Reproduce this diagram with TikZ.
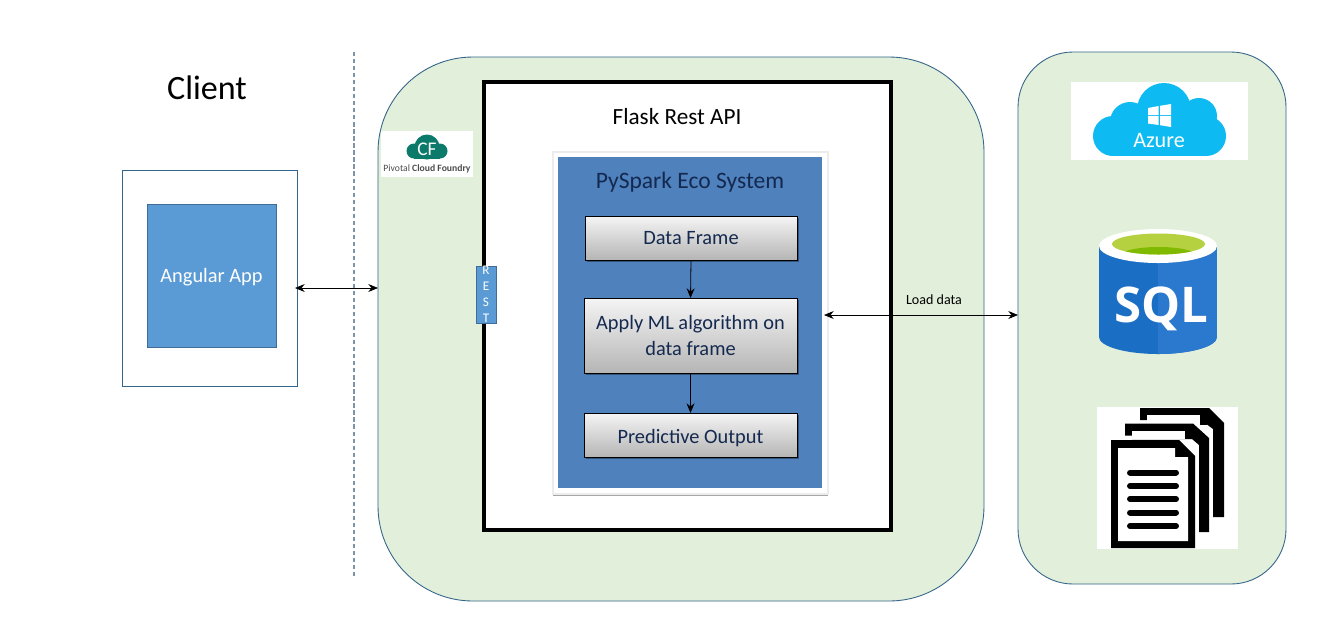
\documentclass[tikz,border=0pt]{standalone}
\usepackage{fontspec}
\setmainfont{Carlito}
\newfontfamily\sqlfont{Open Sans}
\usetikzlibrary{shadows,arrows.meta}
\definecolor{panelfill}{HTML}{E2EFDA}
\definecolor{panelline}{HTML}{34658A}
\definecolor{angblue}{HTML}{5B9BD5}
\definecolor{sepline}{HTML}{7F93A8}
\definecolor{sparkblue}{HTML}{4F81BD}
\definecolor{navytext}{HTML}{14294F}
\definecolor{azureblue}{HTML}{0DBBF2}
\definecolor{cfgreen}{HTML}{0B7A6B}
\definecolor{sqlleft}{HTML}{1A6FC4}
\definecolor{sqlright}{HTML}{2B78CF}
\definecolor{sqllime}{HTML}{B6D13F}
\definecolor{sqlgreen}{HTML}{7FBA00}
\def\u{0.02cm}
\newcommand{\fs}[2]{\fontsize{#1pt}{#2pt}\selectfont}
\tikzset{
  x=0.02cm,y=-0.02cm,
  base/.style={inner sep=0pt,outer sep=0pt,align=center},
  panel/.style={base,draw=panelline,fill=panelfill,line width=0.5pt},
  flowbox/.style={base,draw=black,line width=0.4pt,top color=gray!8,bottom color=gray!58,text=navytext,
     drop shadow={shadow xshift=1pt,shadow yshift=-1pt,opacity=.35,fill=black},font=\fs{11.6}{14.6}},
  link/.style={draw=black,line width=0.45pt,{Stealth[length=5.5pt,width=4.5pt]}-{Stealth[length=5.5pt,width=4.5pt]}},
  flow/.style={draw=black,line width=0.45pt,-{Stealth[length=5.5pt,width=4.5pt]}},
  logobg/.style={base,fill=white},
  caption/.style={inner sep=0pt,outer sep=0pt,text=black},
}
\begin{document}
\begin{tikzpicture}
\useasboundingbox[fill=white] (0,0) rectangle (1325,630);
% panels
\node[panel,rounded corners=1.9cm,minimum width=606*\u,minimum height=544*\u] (cfpanel) at (681,329) {};
\node[panel,rounded corners=1.1cm,minimum width=268*\u,minimum height=532*\u] (store) at (1152,318) {};
% separator
\coordinate (septop) at (354,52);
\coordinate (sepbot) at (354,577);
\draw[sepline,line width=0.6pt,dash pattern=on 2.4pt off 1.6pt] (septop) -- (sepbot);
% client
\node[caption,font=\fs{19.4}{22}] (clienttitle) at (207,88) {Client};
\node[base,draw=panelline,fill=white,line width=0.4pt,minimum width=175*\u,minimum height=216*\u] (client) at (209.5,278) {};
\node[base,draw=angblue!70!black,fill=angblue,line width=0.4pt,text=white,font=\fs{11.6}{14},text height=8pt,text depth=0pt,minimum width=129*\u,minimum height=143*\u] (angular) at (211.5,275.5) {Angular App};
% flask
\node[base,draw=black,fill=white,line width=1.8pt,minimum width=407*\u,minimum height=448*\u] (flask) at (687.5,306) {};
\node[caption,font=\fs{13.2}{16}] (flasktitle) at (677,116.5) {Flask Rest API};
% spark
\node[base,draw=gray!15,line width=0.6pt,fill=white,minimum width=275*\u,minimum height=342*\u,drop shadow={shadow xshift=0pt,shadow yshift=-1pt,opacity=.35,fill=black}] (sparkframe) at (690.5,323) {};
\node[base,fill=sparkblue,minimum width=264*\u,minimum height=331*\u] (spark) at (690,322.5) {};
\node[caption,text=navytext,font=\fs{13.4}{16}] (sparktitle) at (690,182) {PySpark Eco System};
\node[flowbox,minimum width=212*\u,minimum height=44*\u] (df) at (691,238) {Data Frame};
\node[flowbox,minimum width=213*\u,minimum height=75*\u] (ml) at (690.5,335.5) {Apply ML algorithm on\\data frame};
\node[flowbox,text height=9.6pt,text depth=0pt,minimum width=213*\u,minimum height=44*\u] (po) at (690.5,435) {Predictive Output};
\draw[flow] (df.south) -- (ml.north);
\draw[flow] (ml.south) -- (po.north);
% REST tab
\node[base,draw=angblue!70!black,fill=angblue,line width=0.4pt,text=white,font=\fs{7.5}{9.15},minimum width=20*\u,minimum height=57*\u,anchor=center] (rest) at (486,294.5) {R\\E\\S\\T};
% CF logo
\node[logobg,minimum width=92*\u,minimum height=46*\u] (cflogo) at (427,154) {};
\fill[cfgreen] (414,151) circle[radius=7.5];
\fill[cfgreen] (440,151) circle[radius=7.5];
\fill[cfgreen] (427,147) circle[radius=12.5];
\fill[cfgreen] (414,146) rectangle (440,158.5);
\node[caption,text=white,font=\fs{11}{13}] (cfmark) at (427,149.5) {CF};
\node[caption,text=black!70,font=\fs{5.5}{7}] (cfname) at (427,168.5) {Pivotal \textbf{Cloud Foundry}};
% Azure logo
\node[logobg,minimum width=177*\u,minimum height=78*\u] (azurelogo) at (1159.5,121) {};
\fill[azureblue] (1113,136) circle[radius=20];
\fill[azureblue] (1206,136) circle[radius=20];
\fill[azureblue] (1130,122) circle[radius=20];
\fill[azureblue] (1199,116) circle[radius=18];
\fill[azureblue] (1164,110) circle[radius=27];
\fill[azureblue] (1113,118) rectangle (1206,156);
\fill[white] (1148,108) -- (1158.6,106) -- (1158.6,115) -- (1148,115) -- cycle
  (1160,105.8) -- (1171,104) -- (1171,115) -- (1160,115) -- cycle
  (1148,116.2) -- (1158.6,116.2) -- (1158.6,125) -- (1148,123.5) -- cycle
  (1160,116.2) -- (1171,116.2) -- (1171,127) -- (1160,125.2) -- cycle;
\node[caption,text=white,font=\fs{12.6}{15}] (azuretext) at (1159,140) {Azure};
% SQL logo
\fill[sqlleft] (1099,246) rectangle (1217,337);
\fill[sqlleft] (1158,337) ellipse[x radius=59,y radius=17];
\begin{scope}
\clip (1158,220) rectangle (1225,360);
\fill[sqlright] (1099,246) rectangle (1217,337);
\fill[sqlright] (1158,337) ellipse[x radius=59,y radius=17];
\end{scope}
\fill[white] (1158,246) ellipse[x radius=59,y radius=17];
\fill[sqllime] (1158.5,244) ellipse[x radius=46.5,y radius=10.5];
\begin{scope}
\clip (1158.5,244) ellipse[x radius=46.5,y radius=10.5];
\fill[sqlgreen] (1158.5,255) ellipse[x radius=37,y radius=8];
\end{scope}
\node[caption,text=white,font=\sqlfont\bfseries\fs{28}{30}] (sqltext) at (1161.5,309) {SQL};
% documents logo
\node[logobg,minimum width=141*\u,minimum height=142*\u] (docs) at (1167.5,478) {};
\fill[black] (1140,408) -- (1209,408) -- (1224,423) -- (1224,517) -- (1213,517) -- (1213,429) -- (1207,424.5) -- (1147,424.5) -- (1147,420) -- (1140,420) -- cycle;
\fill[white] (1147,415) rectangle (1200,424.5);
\fill[black] (1200,414) -- (1207,414) -- (1207,424.5) -- (1200,424.5) -- cycle;
\fill[black] (1125,423.5) -- (1193,423.5) -- (1209,438) -- (1209,532) -- (1199,532) -- (1199,445) -- (1192,439) -- (1132,439) -- (1132,435.5) -- (1125,435.5) -- cycle;
\fill[white] (1132,430.5) rectangle (1185,439);
\fill[black] (1185,430) -- (1192,430) -- (1192,439) -- (1185,439) -- cycle;
\fill[black] (1111,440) -- (1179,440) -- (1195,456) -- (1195,548) -- (1111,548) -- cycle;
\fill[white] (1118,448) -- (1175,448) -- (1175,457) -- (1188,457) -- (1188,541) -- (1118,541) -- cycle;
\draw[black,line width=3.4pt,line cap=round] (1130,472.5) -- (1176,472.5) (1130,486) -- (1176,486) (1130,499) -- (1176,499) (1130,512.5) -- (1176,512.5) (1130,526) -- (1176,526);
% connectors
\coordinate (angrow) at (0,288);
\coordinate (loadrow) at (0,315);
\draw[link] ([xshift=-2*\u]client.east |- angrow) -- (cfpanel.west |- angrow);
\draw[link] ([xshift=2*\u]spark.east |- loadrow) -- (store.west |- loadrow);
\node[caption,font=\fs{8}{9}] (loadlabel) at (934,300) {Load data};
\end{tikzpicture}
\end{document}
